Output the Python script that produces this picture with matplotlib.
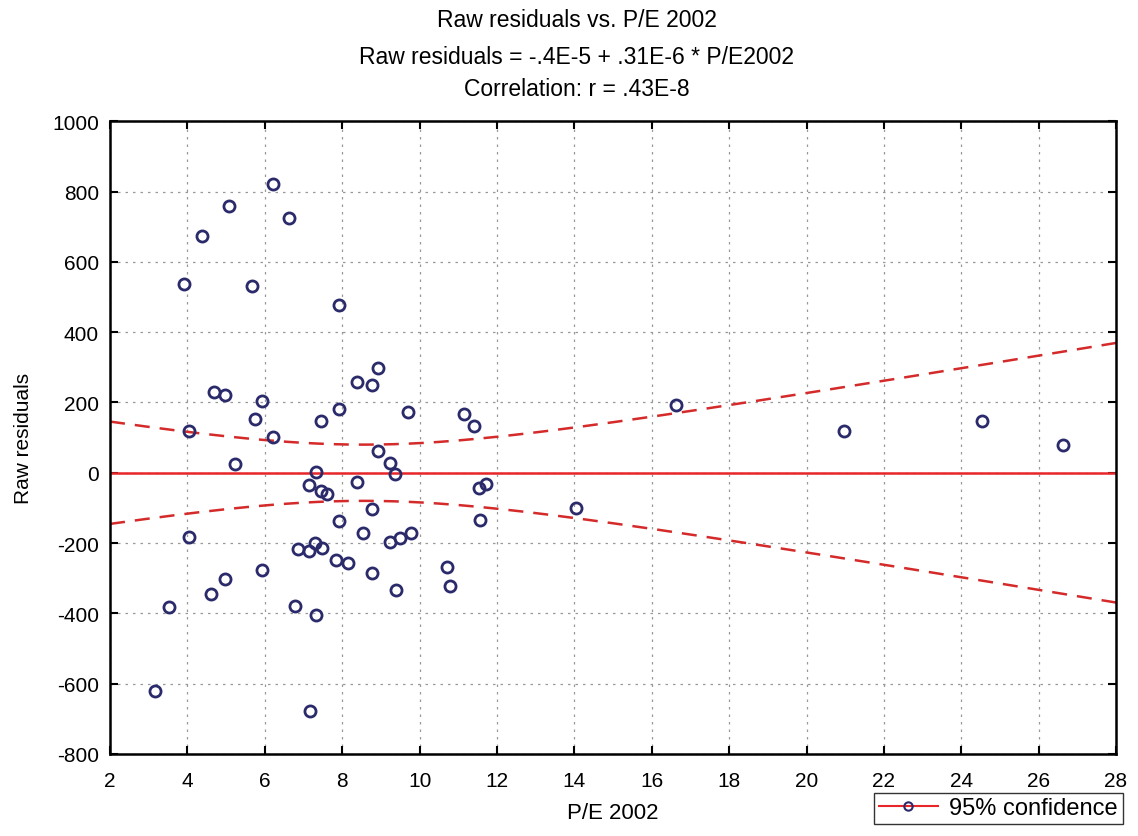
import matplotlib
matplotlib.use('Agg')
import matplotlib.pyplot as plt
from matplotlib.lines import Line2D
import numpy as np

plt.rcParams['font.family'] = ['Liberation Sans', 'DejaVu Sans']
plt.rcParams['axes.unicode_minus'] = False

# P/E 2002 values and raw residuals
pe = [3.92, 4.37, 5.07, 6.22, 6.62, 5.68, 7.93, 8.93, 8.39, 8.77,
      4.69, 4.98, 5.92, 5.75, 7.93, 7.45, 9.69, 11.16, 11.40, 4.05,
      6.22, 8.93, 9.24, 5.22, 7.32, 9.37, 7.15, 7.45, 7.62, 8.38,
      8.78, 7.93, 11.54, 11.72, 11.55, 14.05, 16.64, 9.78, 9.50, 10.71,
      4.05, 8.55, 9.24, 6.85, 7.15, 7.31, 7.47, 7.84, 8.15, 5.92,
      8.78, 10.78, 9.39, 4.98, 4.62, 3.52, 6.78, 7.32, 3.15, 7.16,
      20.98, 24.54, 26.63]
resid = [538, 674, 760, 821, 726, 530, 478, 299, 257, 250,
         229, 222, 204, 153, 181, 146, 173, 166, 132, 119,
         103, 61, 27, 26, 1, -5, -35, -52, -61, -27,
         -104, -138, -42, -32, -134, -100, 193, -171, -187, -268,
         -183, -172, -196, -216, -224, -199, -214, -249, -257, -277,
         -284, -323, -334, -301, -346, -381, -378, -404, -621, -677,
         118, 147, 78]

# fit printed in the title
intercept = -.4E-5
slope = .31E-6

x = np.array(pe)
y = np.array(resid)
n = len(x)

xs = np.linspace(2, 28, 200)
fit = intercept + slope * xs
s = np.sqrt(np.sum((y - (intercept + slope * x))**2) / (n - 2))
sxx = np.sum((x - x.mean())**2)
half = 1.999 * s * np.sqrt(1.0 / n + (xs - x.mean())**2 / sxx)

fig = plt.figure(figsize=(11.38, 8.37), dpi=100)
ax = fig.add_axes([0.0967, 0.098, 0.884, 0.756])

ax.plot(xs, fit, color='#e8262a', lw=1.8)
ax.plot(xs, fit + half, color='#d42a2a', lw=1.8, ls=(0, (6, 4)))
ax.plot(xs, fit - half, color='#d42a2a', lw=1.8, ls=(0, (6, 4)))
ax.plot(x, y, 'o', mfc='none', mec='#2b2a6b', mew=2, ms=8)

ax.set_xlim(2, 28)
ax.set_ylim(-800, 1000)
ax.set_xticks(np.arange(2, 29, 2))
ax.set_yticks(np.arange(-800, 1001, 200))
ax.grid(True, ls=(0, (2, 4)), color='#999999', lw=0.9)
ax.tick_params(direction='in', top=True, right=True, labelsize=15, length=6, width=1.5)
ax.tick_params(axis='x', pad=12)
ax.tick_params(axis='y', pad=8)
for sp in ax.spines.values():
    sp.set_linewidth(1.8)

ax.set_xlabel('P/E 2002', fontsize=16, labelpad=9)
ax.set_ylabel('Raw residuals', fontsize=15, labelpad=14)

fig.text(0.507, 0.975, 'Raw residuals vs. P/E 2002', ha='center', va='center', fontsize=16.5)
fig.text(0.507, 0.931, 'Raw residuals = -.4E-5 + .31E-6 * P/E2002', ha='center', va='center', fontsize=16.5)
fig.text(0.507, 0.893, 'Correlation: r = .43E-8', ha='center', va='center', fontsize=16.5)

h = Line2D([], [], color='#e8262a', lw=1.5, marker='o', mfc='none', mec='#2b2a6b', mew=1.5, ms=6)
fig.legend([h], ['95% confidence'], loc='lower right', bbox_to_anchor=(0.997, 0.0),
           fontsize=17, frameon=True, fancybox=False, edgecolor='black',
           handlelength=2.5, borderpad=0.2, handletextpad=0.5)

fig.savefig('out.png', dpi=100)
